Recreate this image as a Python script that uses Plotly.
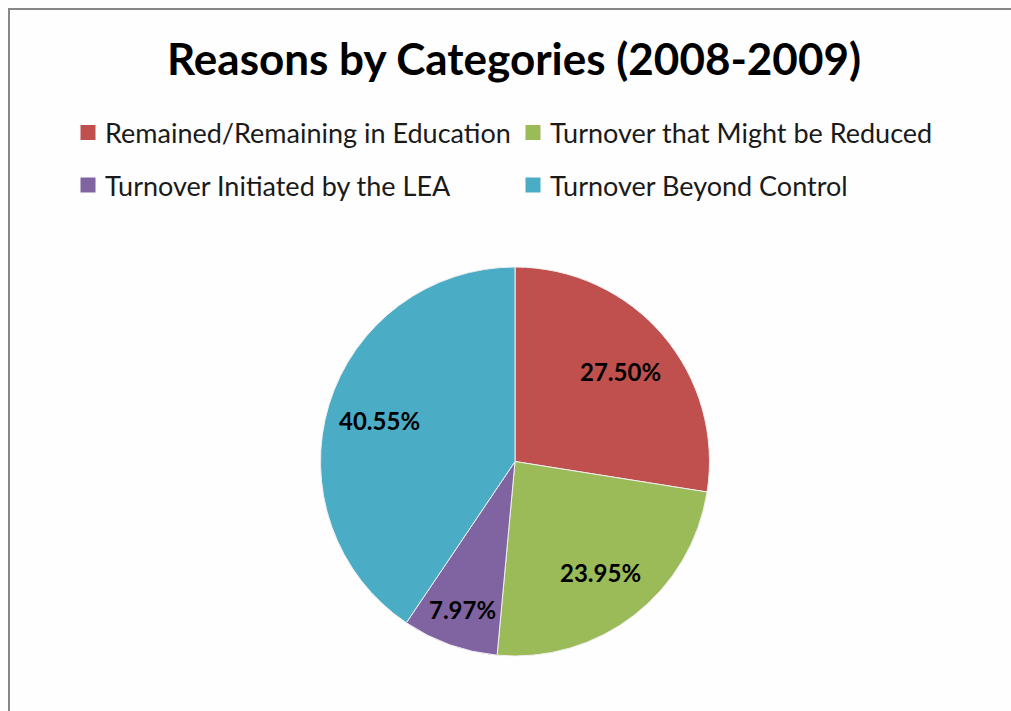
import math
import plotly.graph_objects as go

# Category breakdown of reasons, school year 2008-2009
categories = [
    "Remained/Remaining in Education",
    "Turnover that Might be Reduced",
    "Turnover Initiated by the LEA",
    "Turnover Beyond Control",
]
shares = [27.50, 23.95, 7.97, 40.55]
colors = ["#C0504D", "#9BBB59", "#8064A2", "#4BACC6"]

W, H = 1011, 711

# pie geometry in pixels
CX, CY, R = 515, 461.5, 194.5
# how far out (fraction of radius) each value label sits
label_radius = [0.71, 0.72, 0.81, 0.73]

# legend grid: two columns, two rows
legend_cols = [88, 533]
legend_rows = [132.5, 185]
swatch = 15


def px(x):
    return x / W


def py(y):
    return 1 - y / H


fig = go.Figure(
    go.Pie(
        labels=categories,
        values=shares,
        textinfo="none",
        marker=dict(colors=colors, line=dict(color="#EFEFEF", width=1)),
        sort=False,
        direction="clockwise",
        rotation=0,
        showlegend=False,
        hoverinfo="label+value",
        domain=dict(x=[px(CX - R), px(CX + R)], y=[py(CY + R), py(CY - R)]),
    )
)

annotations = []
total = sum(shares)
cum = 0.0
for v, rr in zip(shares, label_radius):
    mid = (cum + v / 2) / total * 2 * math.pi
    cum += v
    x = CX + rr * R * math.sin(mid)
    y = CY - rr * R * math.cos(mid)
    annotations.append(dict(
        x=px(x), y=py(y), xref="paper", yref="paper",
        text=f"<b>{v:.2f}%</b>", showarrow=False,
        xanchor="center", yanchor="middle",
        font=dict(family="Lato", size=24, color="black"),
    ))

shapes = [
    dict(
        type="path", xref="paper", yref="paper",
        path=f"M {px(9)},0 L {px(9)},{py(9)} L 1,{py(9)}",
        line=dict(color="#868686", width=2),
    )
]

for i, (name, col) in enumerate(zip(categories, colors)):
    cx = legend_cols[i % 2]
    cy = legend_rows[i // 2]
    shapes.append(dict(
        type="rect", xref="paper", yref="paper",
        x0=px(cx - swatch / 2), x1=px(cx + swatch / 2),
        y0=py(cy + swatch / 2), y1=py(cy - swatch / 2),
        fillcolor=col, line=dict(width=0),
    ))
    annotations.append(dict(
        x=px(cx + 15), y=py(cy), xref="paper", yref="paper",
        text=name, showarrow=False,
        xanchor="left", yanchor="middle",
        font=dict(family="Lato", size=27, color="#1A1A1A"),
    ))

fig.update_layout(
    width=W,
    height=H,
    margin=dict(l=0, r=0, t=0, b=0),
    paper_bgcolor="#FEFEFE",
    plot_bgcolor="#FEFEFE",
    title=dict(
        text="Reasons by Categories (2008-2009)",
        font=dict(family="Lato", size=44, color="black", weight="bold"),
        x=px(514),
        xanchor="center",
        y=py(60),
        yanchor="middle",
    ),
    shapes=shapes,
    annotations=annotations,
)

fig.write_html("out.html")
